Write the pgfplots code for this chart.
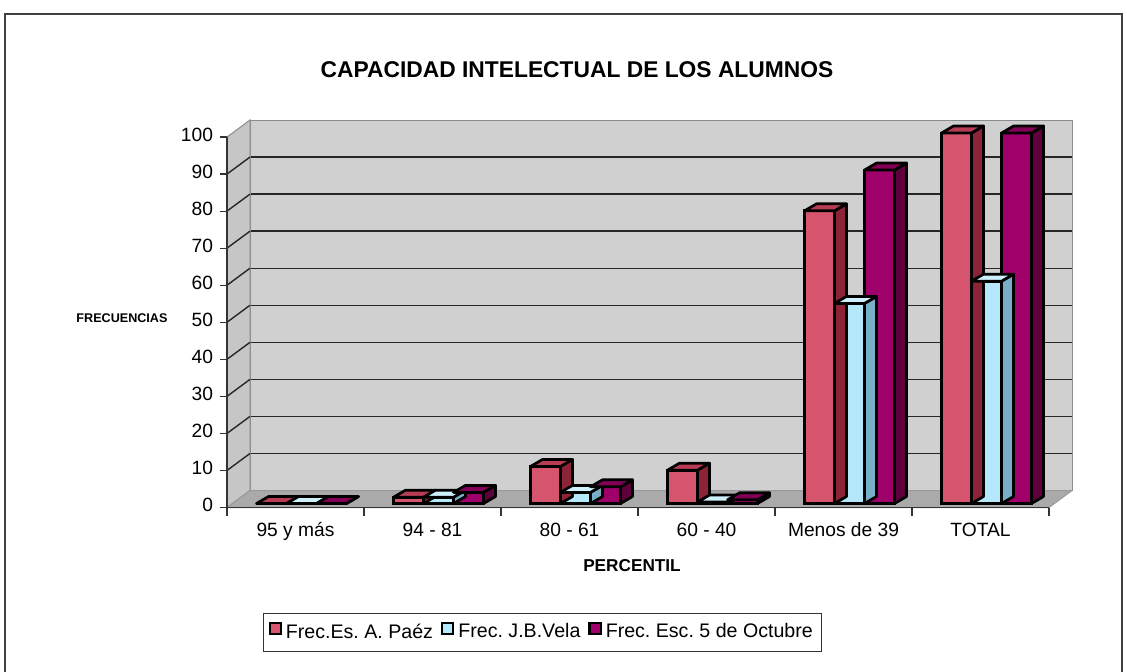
\documentclass[border=0pt]{standalone}
\usepackage{pgfplots}
\usepackage{pgfplotstable}
\pgfplotsset{compat=1.18}
\usepackage{fontspec}
\setmainfont{Liberation Sans}
\frenchspacing

\definecolor{paez}{RGB}{214,84,110}
\definecolor{paeztop}{RGB}{185,60,85}
\definecolor{paezside}{RGB}{140,35,55}
\definecolor{vela}{RGB}{180,232,250}
\definecolor{velatop}{RGB}{205,240,250}
\definecolor{velaside}{RGB}{120,175,200}
\definecolor{octu}{RGB}{160,0,105}
\definecolor{octutop}{RGB}{130,0,85}
\definecolor{octuside}{RGB}{95,0,60}
\definecolor{wall}{RGB}{208,208,208}
\definecolor{sidewall}{RGB}{198,198,198}
\definecolor{floorc}{RGB}{170,170,170}

\pgfdeclareplotmark{empty}{}
\newcommand{\prismcode}[3]{%
  \pgfmathsetmacro\hh{\myy*1.8525}%
  \fill[#3, draw=black, line width=1.35pt, line join=round] (#1+7.5pt,2pt) -- ++(6pt,3.5pt) -- ++(0pt,-\hh pt) -- ++(-6pt,-3.5pt) -- cycle;
  \fill[#2, draw=black, line width=1.35pt, line join=round] (#1-7.5pt,2pt) -- ++(15pt,0pt) -- ++(6pt,3.5pt) -- ++(-15pt,0pt) -- cycle;
}

\pgfplotstableread{
x paez vela octu
0 0 0 0
1 1.7 1.7 3
2 10 3 4.5
3 9 0.4 1
4 79 54 90
5 100 60 100
}\datatable

\begin{document}
\begin{tikzpicture}
\useasboundingbox (0,0) rectangle (563.5pt,-335.5pt);
\draw[line width=0.6pt, black!75] (2.5pt,-345pt) -- (2.5pt,-7pt) -- (561pt,-7pt) -- (561pt,-345pt);

% back wall axis
\begin{axis}[
  at={(125pt,-245.25pt)}, anchor=south west,
  scale only axis, width=411pt, height=185.25pt,
  xmin=-0.5, xmax=5.5, ymin=0, ymax=100,
  xtick=\empty, ytick={10,20,...,90},
  yticklabels={}, major tick length=0pt,
  ymajorgrids, grid style={black!85, line width=0.7pt},
  axis background/.style={fill=wall},
  axis line style={black!45, line width=0.5pt},
  clip=false,
]
\fill[sidewall, draw=black!45, line width=0.5pt]
  ([shift={(-11.5pt,-8.5pt)}]axis cs:-0.5,0) -- ([shift={(-11.5pt,-8.5pt)}]axis cs:-0.5,100)
  -- (axis cs:-0.5,100) -- (axis cs:-0.5,0) -- cycle;
\pgfplotsinvokeforeach{10,20,...,90}{
  \draw[black!85, line width=0.7pt] ([shift={(-11.5pt,-8.5pt)}]axis cs:-0.5,#1) -- (axis cs:-0.5,#1);
}
\fill[floorc, draw=black!40, line width=0.5pt]
  ([shift={(-11.5pt,-8.5pt)}]axis cs:-0.5,0) -- ([shift={(-11.5pt,-8.5pt)}]axis cs:5.5,0)
  -- (axis cs:5.5,0) -- (axis cs:-0.5,0) -- cycle;
\end{axis}

% front axis with bars
\begin{axis}[
  at={(113.5pt,-253.75pt)}, anchor=south west,
  scale only axis, width=411pt, height=185.25pt,
  xmin=-0.5, xmax=5.5, ymin=0, ymax=100,
  axis x line*=bottom, axis y line*=left,
  axis line style={black!80, line width=0.6pt},
  ytick={0,10,...,100},
  xtick={0,...,5},
  xticklabels={95 y más, 94 - 81, 80 - 61, 60 - 40, Menos de 39, TOTAL},
  typeset ticklabels with strut,
  major x tick style={draw=none},
  minor xtick={-0.5,0.5,...,5.5},
  tick align=outside,
  major tick length=3.5pt, minor tick length=4pt,
  tick style={black!80, line width=0.6pt},
  ticklabel style={font=\fontsize{9.6pt}{11pt}\selectfont},
  /pgf/number format/assume math mode=true,
  clip=false,
  legend style={at={(0.384,-0.337)}, anchor=center, legend columns=3,
    draw=black!80, line width=0.5pt, font=\fontsize{9.8pt}{11pt}\selectfont,
    inner xsep=2.5pt, inner ysep=3pt,
    /tikz/every even column/.append style={column sep=2pt}},
]
\addplot[ybar, bar width=15pt, bar shift=-12pt, fill=paez, draw=black, line width=1.35pt, yshift=2pt,
  legend image code/.code={\draw[fill=paez,draw=black,line width=1.1pt] (0pt,-2.8pt) rectangle (5.6pt,2.8pt);}] table[x=x,y=paez] {\datatable};
\addplot[scatter, only marks, mark=empty, forget plot,
  visualization depends on={\thisrow{paez}\as\myy},
  scatter/@pre marker code/.code={\prismcode{-12pt}{paeztop}{paezside}},
  scatter/@post marker code/.code={}] table[x=x,y=paez] {\datatable};
\addplot[ybar, bar width=15pt, bar shift=3pt, fill=vela, draw=black, line width=1.35pt, yshift=2pt,
  legend image code/.code={\draw[fill=vela,draw=black,line width=1.1pt] (0pt,-2.8pt) rectangle (5.6pt,2.8pt);}] table[x=x,y=vela] {\datatable};
\addplot[scatter, only marks, mark=empty, forget plot,
  visualization depends on={\thisrow{vela}\as\myy},
  scatter/@pre marker code/.code={\prismcode{3pt}{velatop}{velaside}},
  scatter/@post marker code/.code={}] table[x=x,y=vela] {\datatable};
\addplot[ybar, bar width=15pt, bar shift=18pt, fill=octu, draw=black, line width=1.35pt, yshift=2pt,
  legend image code/.code={\draw[fill=octu,draw=black,line width=1.1pt] (0pt,-2.8pt) rectangle (5.6pt,2.8pt);}] table[x=x,y=octu] {\datatable};
\addplot[scatter, only marks, mark=empty, forget plot,
  visualization depends on={\thisrow{octu}\as\myy},
  scatter/@pre marker code/.code={\prismcode{18pt}{octutop}{octuside}},
  scatter/@post marker code/.code={}] table[x=x,y=octu] {\datatable};
\legend{Frec.Es. A. Paéz, Frec. J.B.Vela, Frec. Esc. 5 de Octubre}
\end{axis}

\node[font=\bfseries\fontsize{11.4pt}{13pt}\selectfont] at (288.5pt,-35pt) {CAPACIDAD INTELECTUAL DE LOS ALUMNOS};
\node[font=\bfseries\fontsize{6.3pt}{7.5pt}\selectfont] at (61pt,-159pt) {FRECUENCIAS};
\node[font=\bfseries\fontsize{8.6pt}{10pt}\selectfont] at (316pt,-283pt) {PERCENTIL};
\end{tikzpicture}
\end{document}
